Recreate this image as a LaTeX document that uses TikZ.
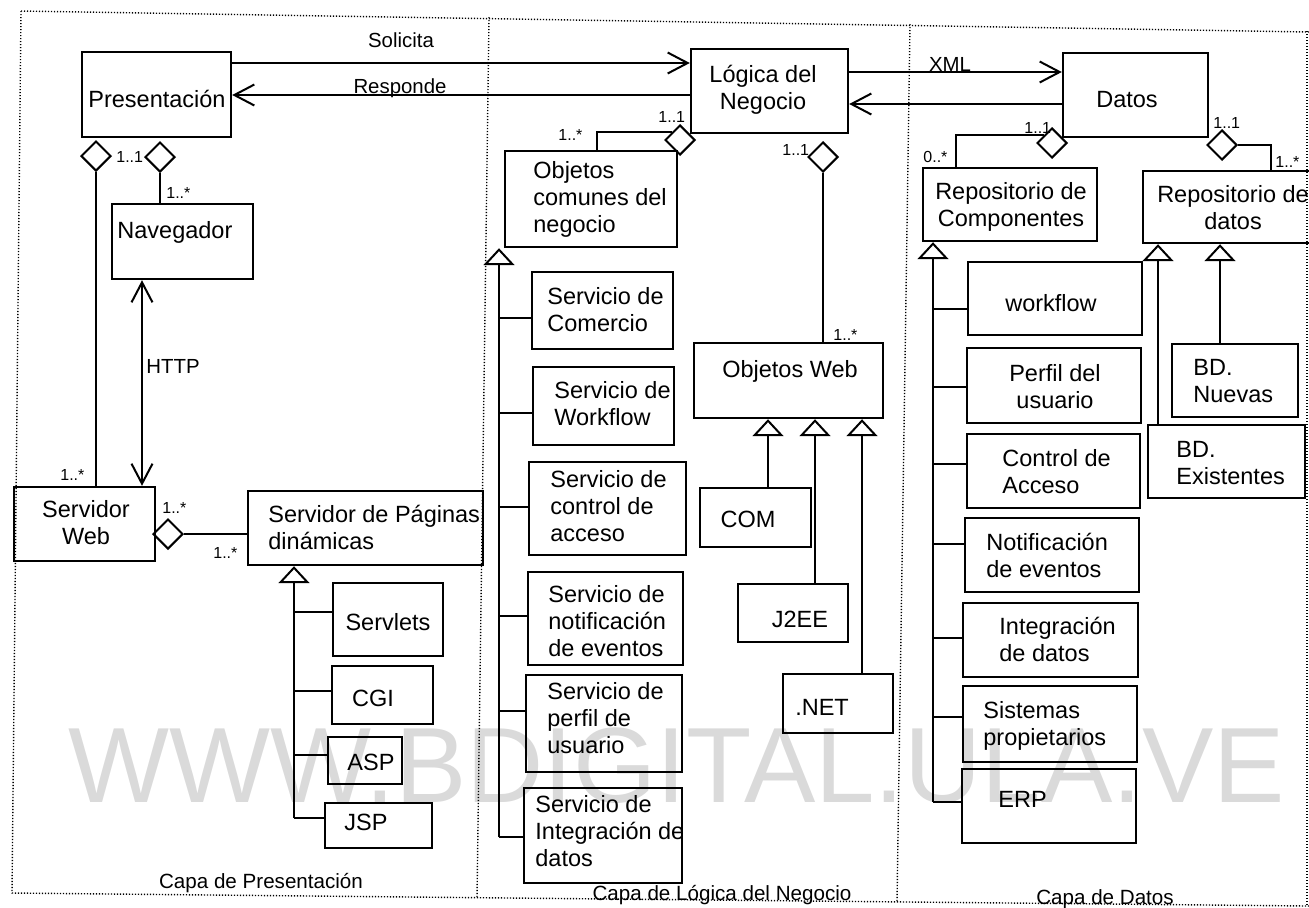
\documentclass[tikz,border=0pt]{standalone}
\usepackage{fontspec}
\setmainfont{Liberation Sans}
\usetikzlibrary{arrows.meta,shapes.geometric}
\definecolor{wm}{RGB}{218,218,218}
% a class box given by its corners: name, left, top, right, bottom
\newcommand\umlbox[5]{\node[box, minimum width={(#4-#2)*0.5pt}, minimum height={(#5-#3)*0.5pt}] (#1) at ({(#2+#4)/2},{(#3+#5)/2}) {};}
\begin{document}
\begin{tikzpicture}[x=0.5pt,y=-0.5pt,
  frame/.style={line width=0.7pt, dash pattern=on 0.6pt off 0.9pt},
  box/.style={draw, line width=1.2pt, inner sep=0pt},
  line/.style={line width=1pt},
  flow/.style={line width=1pt, -{Straight Barb[length=10pt,width=10.5pt]}},
  both/.style={line width=1pt, {Straight Barb[length=10pt,width=10.5pt]}-{Straight Barb[length=10pt,width=10.5pt]}},
  gen/.style={line width=1pt, -{Triangle[open,length=8.5pt,width=15.5pt]}},
  agg/.style={draw, diamond, line width=1pt, minimum width=15pt, minimum height=15pt, inner sep=0pt},
  txt/.style={inner sep=0pt, font=\fontsize{11.75}{13.5}\selectfont, align=left},
  ctxt/.style={txt, align=center},
  mult/.style={inner sep=0pt, anchor=base west, font=\fontsize{8}{9}\selectfont},
  lbl/.style={inner sep=0pt, font=\fontsize{10.2}{12}\selectfont},
  layer/.style={inner sep=0pt, anchor=base, font=\fontsize{10.3}{12}\selectfont},
]
\useasboundingbox (0,0) rectangle (1309,907);
\clip (0,0) rectangle (1309,907);

% watermark
\node[anchor=base west, inner sep=0pt, text=wm, font=\fontsize{53.5}{60}\selectfont] (wmark) at (68,802) {WWW.BDIGITAL.ULA.VE};

% layer frames
\draw[frame] (21,11) -- (1309,32);
\draw[frame] (21,11) -- (12,893) -- (1309,906);
\draw[frame] (489,17) -- (477,898);
\draw[frame] (910,24) -- (897,902);
\draw[frame] (1307,31) -- (1307,906);
\node[layer] (capaP) at (261,888) {Capa de Presentación};
\node[layer] (capaL) at (722,900) {Capa de Lógica del Negocio};
\node[layer] (capaD) at (1105,904) {Capa de Datos};

% ---------- presentation layer ----------
\umlbox{pres}{82}{52}{231}{137}
\umlbox{nav}{112}{204}{253}{279}
\umlbox{sw}{14}{487}{155}{561}
\umlbox{spd}{248}{491}{483}{565}
\umlbox{servlets}{333}{583}{443}{656}
\umlbox{cgi}{332}{666}{433}{724}
\umlbox{asp}{328}{737}{402}{784}
\umlbox{jsp}{325}{803}{432}{848}
\node[txt, anchor=base] (presT) at (157,107) {Presentación};
\node[txt, anchor=base west] (navT) at (117,238) {Navegador};
\node[ctxt] (swT) at (86,523) {Servidor\\Web};
\node[txt, anchor=west] (spdT) at (268,527) {Servidor de Páginas\\dinámicas};
\node[txt, anchor=base] (servletsT) at (388,630) {Servlets};
\node[txt, anchor=base] (cgiT) at (373,706) {CGI};
\node[txt, anchor=base] (aspT) at (371,770) {ASP};
\node[txt, anchor=base] (jspT) at (366,830) {JSP};

\node[agg] (dSW) at (96,156) {};
\node[agg] (dNav) at (160,157) {};
\node[agg] (dSrv) at (168,534) {};
\draw[line] (dSW.south) -- (sw.north -| dSW.south);
\draw[line] (dNav.south) -- (nav.north -| dNav.south);
\draw[both] (nav.south -| 142,0) -- (sw.north -| 142,0);
\draw[line] (dSrv.east) -- (spd.west |- dSrv.east);
\node[mult] (m1) at (116,162) {1..1};
\node[mult] (m2) at (166,198) {1..*};
\node[mult] (m3) at (60,480) {1..*};
\node[mult] (m4) at (162,513) {1..*};
\node[mult] (m5) at (213,558) {1..*};
\node[lbl, anchor=base west] (httpT) at (146,373) {HTTP};

\coordinate (spdB) at (294,818);
\draw[gen] (spdB) -- (spd.south -| spdB);
\draw[line] (spdB |- 0,612) -- (servlets.west |- 0,612);
\draw[line] (spdB |- 0,691) -- (cgi.west |- 0,691);
\draw[line] (spdB |- 0,755) -- (asp.west |- 0,755);
\draw[line] (spdB) -- (jsp.west |- spdB);

% ---------- business logic layer ----------
\umlbox{logic}{691}{49}{848}{133}
\umlbox{oc}{505}{151}{677}{247}
\umlbox{scom}{532}{272}{673}{349}
\umlbox{swf}{533}{367}{674}{445}
\umlbox{sctl}{529}{462}{686}{555}
\umlbox{snot}{528}{572}{683}{665}
\umlbox{sper}{526}{675}{682}{772}
\umlbox{sint}{524}{788}{682}{883}
\umlbox{ow}{694}{343}{883}{418}
\umlbox{com}{700}{488}{811}{547}
\umlbox{jee}{738}{584}{848}{642}
\umlbox{net}{783}{674}{893}{733}
\node[ctxt] (logicT) at (763,89.5) {Lógica del\\Negocio};
\node[txt, anchor=west] (ocT) at (533,199) {Objetos\\comunes del\\negocio};
\node[txt, anchor=west] (scomT) at (547,310) {Servicio de\\Comercio};
\node[txt, anchor=west] (swfT) at (554,404) {Servicio de\\Workflow};
\node[txt, anchor=west] (sctlT) at (550,506) {Servicio de\\control de\\acceso};
\node[txt, anchor=west] (snotT) at (548,621.5) {Servicio de\\notificación\\de eventos};
\node[txt, anchor=west] (sperT) at (547,718) {Servicio de\\perfil de\\usuario};
\node[txt, anchor=west] (sintT) at (535,831) {Servicio de\\Integración de\\datos};
\node[txt, anchor=base] (owT) at (790,377) {Objetos Web};
\node[txt, anchor=base] (comT) at (748,527) {COM};
\node[txt, anchor=base] (jeeT) at (800,627) {J2EE};
\node[txt, anchor=base] (netT) at (822,715) {.NET};

\draw[flow] (pres.east |- 0,63) -- (logic.west |- 0,63);
\draw[flow] (logic.west |- 0,95) -- (pres.east |- 0,95);
\node[lbl, anchor=base] (solT) at (401,47) {Solicita};
\node[lbl, anchor=base] (resT) at (400,93) {Responde};

\node[agg] (dOC) at (680,140) {};
\node[agg] (dOW) at (823,157) {};
\draw[line] (dOC.north west) -| (oc.north -| 597,0);
\draw[line] (dOW.south) -- (ow.north -| dOW.south);
\node[mult] (m6) at (658,122) {1..1};
\node[mult] (m7) at (558,140) {1..*};
\node[mult] (m8) at (782,155) {1..1};
\node[mult] (m9) at (833,340) {1..*};

\coordinate (ocB) at (499,837);
\draw[gen] (ocB) -- (oc.south -| ocB);
\draw[line] (ocB |- 0,318) -- (scom.west |- 0,318);
\draw[line] (ocB |- 0,413) -- (swf.west |- 0,413);
\draw[line] (ocB |- 0,507) -- (sctl.west |- 0,507);
\draw[line] (ocB |- 0,616) -- (snot.west |- 0,616);
\draw[line] (ocB |- 0,711) -- (sper.west |- 0,711);
\draw[line] (ocB) -- (sint.west |- ocB);

\draw[gen] (com.north -| 768,0) -- (ow.south -| 768,0);
\draw[gen] (jee.north -| 815,0) -- (ow.south -| 815,0);
\draw[gen] (net.north -| 862,0) -- (ow.south -| 862,0);

% ---------- data layer ----------
\umlbox{datos}{1063}{53}{1208}{137}
\umlbox{rc}{923}{168}{1097}{241}
\umlbox{rd}{1143}{171}{1325}{243}
\umlbox{dwf}{968}{262}{1142}{335}
\umlbox{dper}{967}{348}{1141}{423}
\umlbox{dctl}{967}{434}{1140}{508}
\umlbox{dnot}{965}{518}{1139}{592}
\umlbox{dint}{963}{603}{1138}{677}
\umlbox{dsis}{963}{686}{1137}{762}
\umlbox{erp}{962}{769}{1136}{843}
\umlbox{bdn}{1172}{344}{1298}{417}
\umlbox{bde}{1148}{425}{1305}{498}
\node[txt, anchor=base] (datosT) at (1127,107) {Datos};
\node[ctxt] (rcT) at (1011,207) {Repositorio de\\Componentes};
\node[ctxt] (rdT) at (1233,207.5) {Repositorio de\\datos};
\node[txt, anchor=base] (dwfT) at (1051,311) {workflow};
\node[ctxt] (dperT) at (1055,386.5) {Perfil del\\usuario};
\node[txt, anchor=west] (dctlT) at (1002,471.5) {Control de\\Acceso};
\node[txt, anchor=west] (dnotT) at (986,555.5) {Notificación\\de eventos};
\node[txt, anchor=west] (dintT) at (999,639) {Integración\\de datos};
\node[txt, anchor=west] (dsisT) at (983,725.5) {Sistemas\\propietarios};
\node[txt, anchor=base west] (erpT) at (998,807) {ERP};
\node[txt, anchor=west] (bdnT) at (1193,381.5) {BD.\\Nuevas};
\node[txt, anchor=west] (bdeT) at (1176,463) {BD.\\Existentes};

\draw[flow] (logic.east |- 0,72) -- (datos.west |- 0,72);
\draw[flow] (datos.west |- 0,104) -- (logic.east |- 0,104);
\node[lbl, anchor=base] (xmlT) at (950,71) {XML};

\node[agg] (dRC) at (1052,143) {};
\node[agg] (dRD) at (1222,145) {};
\draw[line] (dRC.north west) -| (rc.north -| 956,0);
\draw[line] (dRD.east) -| (rd.north -| 1271,0);
\node[mult] (m10) at (1024,133) {1..1};
\node[mult] (m11) at (923,162) {0..*};
\node[mult] (m12) at (1213,128) {1..1};
\node[mult] (m13) at (1275,167) {1..*};

\coordinate (rcB) at (933,802);
\draw[gen] (rcB) -- (rc.south -| rcB);
\draw[line] (rcB |- 0,309) -- (dwf.west |- 0,309);
\draw[line] (rcB |- 0,387) -- (dper.west |- 0,387);
\draw[line] (rcB |- 0,464) -- (dctl.west |- 0,464);
\draw[line] (rcB |- 0,544) -- (dnot.west |- 0,544);
\draw[line] (rcB |- 0,638) -- (dint.west |- 0,638);
\draw[line] (rcB |- 0,717) -- (dsis.west |- 0,717);
\draw[line] (rcB) -- (erp.west |- rcB);

\draw[gen] (bde.north -| 1158,0) -- (rd.south -| 1158,0);
\draw[gen] (bdn.north -| 1220,0) -- (rd.south -| 1220,0);
\end{tikzpicture}
\end{document}
